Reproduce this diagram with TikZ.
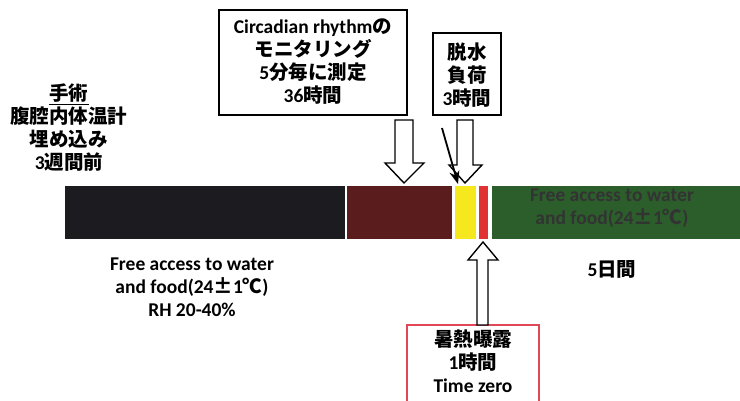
\documentclass[tikz,border=0pt]{standalone}
\usepackage{fontspec}
\setmainfont{Carlito}
\newfontfamily\jp{Noto Sans CJK JP}
\usetikzlibrary{arrows.meta}
\definecolor{barblack}{HTML}{1C1C20}
\definecolor{barbrown}{HTML}{5A1C1C}
\definecolor{baryellow}{HTML}{F5E81E}
\definecolor{barred}{HTML}{E03232}
\definecolor{bargreen}{HTML}{2B5E2B}
\definecolor{boxred}{HTML}{E04858}
\definecolor{greentext}{HTML}{333333}
\tikzset{
  txt/.style={align=center,inner sep=0pt,font=\fontsize{19.5}{23}\selectfont\bfseries},
  bar/.style={draw=none,minimum height=53pt,inner sep=0pt,anchor=north west},
  labelbox/.style={draw=black,line width=1.3pt,inner sep=0pt},
  hollow/.style={draw=black,fill=white,line width=1.4pt,line join=miter},
}
\begin{document}
\begin{tikzpicture}[x=1pt,y=-1pt]
\useasboundingbox (0,0) rectangle (740,401);
% bars
\node[bar,fill=barblack,minimum width=280pt] (bblack) at (65,186) {};
\node[bar,fill=barbrown,minimum width=105pt] (bbrown) at (347,186) {};
\node[bar,fill=baryellow,minimum width=21pt] (byellow) at (455,186) {};
\node[bar,fill=barred,minimum width=9pt] (bred) at (479,186) {};
\node[bar,fill=bargreen,minimum width=248pt] (bgreen) at (492,186) {};
\node[txt,text=greentext] (gtext) at (612,208) {Free access to water\\and food(24{\jp ±}1{\jp ℃})};
% left text
\node[txt] (surgery) at (69,128) {{\jp\underline{手術}}\\{\jp 腹腔内体温計}\\{\jp 埋め込み}\\3{\jp 週間前}};
\node[txt] (cond) at (192,287) {Free access to water\\and food(24{\jp ±}1{\jp ℃})\\RH 20-40\%};
\node[txt] (days) at (612,269) {5{\jp 日間}};
% circadian box
\draw[labelbox] (219,10) rectangle (407,115);
\node[txt] (circ) at (313,62) {Circadian rhythm{\jp の}\\{\jp モニタリング}\\5{\jp 分毎に測定}\\36{\jp 時間}};
% dehydration box
\draw[labelbox] (433,33) rectangle (501,115);
\node[txt] (dehyd) at (467,75) {{\jp 脱水}\\{\jp 負荷}\\3{\jp 時間}};
% heat exposure box
\draw[draw=boxred,line width=1.1pt] (407,325) rectangle (539,410);
\node[txt] (heat) at (473,361) {{\jp 暑熱曝露}\\1{\jp 時間}\\Time zero};
% hollow arrows
\draw[hollow] (395,120) -- (413,120) -- (413,163) -- (424,163) -- (404,183) -- (385,163) -- (395,163) -- cycle;
\draw[hollow] (457,120) -- (473,120) -- (473,165) -- (482,165) -- (465,183) -- (449,165) -- (457,165) -- cycle;
\draw[hollow] (477,325) -- (488,325) -- (488,260) -- (498,260) -- (483,242) -- (468,260) -- (477,260) -- cycle;
% thin arrow
\coordinate (tstart) at (442,128);
\coordinate (tend) at (458,184);
\draw[line width=1.8pt,-{Stealth[length=13pt,width=10pt]}] (tstart) -- (tend);
\end{tikzpicture}
\end{document}
